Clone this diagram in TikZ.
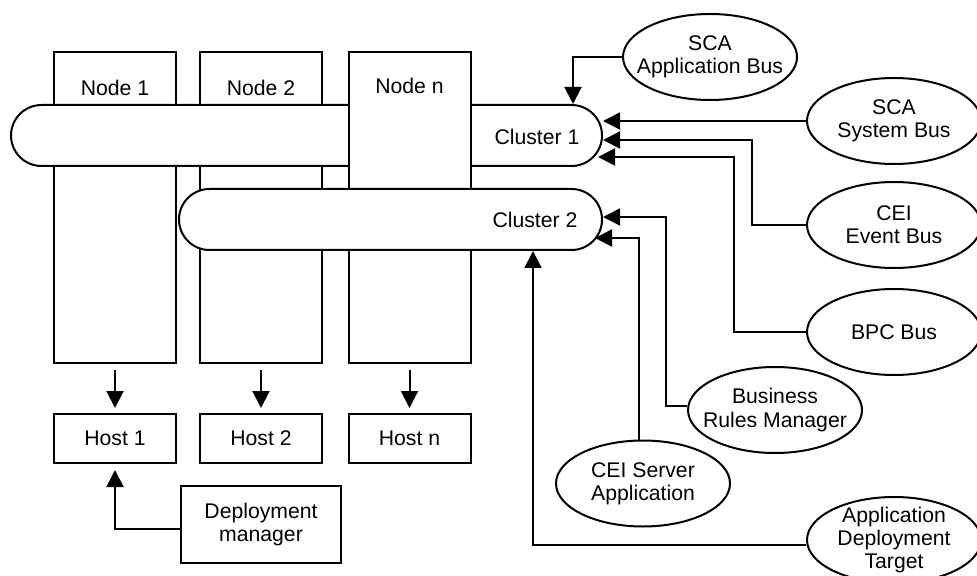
\documentclass[tikz,border=0pt]{standalone}
\usepackage{fontspec}
\setmainfont{Liberation Sans}
\usetikzlibrary{shapes.geometric,arrows.meta,calc}

\begin{document}
\begin{tikzpicture}
    % styles: boxes, clusters, buses and arrows
    [x=0.5pt,y=-0.5pt,
    every node/.style={font=\fontsize{10.6}{11.7}\selectfont},
    box/.style={rectangle,draw,fill=white,line width=1pt,minimum width=61pt},
    cluster/.style={rectangle,draw,fill=white,line width=1pt,rounded corners=15.25pt,minimum height=30.5pt,anchor=east},
    bus/.style={ellipse,draw,fill=white,line width=1pt,minimum width=87pt,minimum height=43pt,inner xsep=-30pt,inner ysep=-15pt,align=center},
    arr/.style={-{Triangle[length=8.5pt,width=8.5pt]},line width=1pt}]

    \useasboundingbox (0,0) rectangle (977,576);

    % node boxes behind cluster 1
    \foreach \x/\n in {115/1,261/2}{
        \node[box,minimum height=155.5pt] (node\n) at (\x,207.5) {};
        \node (nodelab\n) at (\x,88) {Node \n};
    }

    % cluster 1
    \node[cluster,minimum width=295.5pt] (c1) at (603,135.5) {};
    \node (c1lab) at (537,137) {Cluster 1};

    % node n, in front of cluster 1
    \node[box,minimum height=155.5pt] (noden) at (409.5,207.5) {};
    \node (nodelabn) at (409.5,86) {Node n};

    % cluster 2
    \node[cluster,minimum width=211.5pt] (c2) at (603,219.5) {};
    \node (c2lab) at (535,220) {Cluster 2};

    % hosts
    \foreach \x/\n in {115/1,261/2,409.5/n}{
        \node[box,minimum height=24.5pt] (host\n) at (\x,438.5) {Host \n};
        \draw[arr,shorten <=3pt,shorten >=2.5pt] (node\n.south) -- (host\n.north);
    }

    % deployment manager
    \node[box,minimum width=80pt,minimum height=38.5pt,align=center] (dm) at (261,524.5) {Deployment\\manager};
    \draw[arr,shorten >=3pt] ($(dm.west)+(0,4.5)$) -| (host1.south);

    % buses
    \node[bus] (appbus) at (710,57) {SCA\\Application Bus};
    \node[bus] (sysbus) at (894,121) {SCA\\System Bus};
    \node[bus] (eventbus) at (894,225) {CEI\\Event Bus};
    \node[bus] (bpcbus) at (894,332) {BPC Bus};
    \node[bus] (rules) at (775,410) {Business\\Rules Manager};
    \node[bus] (ceiserver) at (643,483.5) {CEI Server\\Application};
    \node[bus] (target) at (894,540) {Application\\Deployment\\Target};

    % buses to cluster 1
    \draw[arr] (appbus.west) -| ($(c1.north east)+(-30,0)$);
    \draw[arr] (sysbus.west) -- (sysbus.west -| c1.east);
    \draw[arr] (eventbus.west) -- ++(-54,0) |- ($(c1.east)+(0,4.5)$);
    \draw[arr] (bpcbus.west) -- ++(-72,0) |- ($(c1.east)+(-5,21.5)$);

    % buses to cluster 2
    \draw[arr] ($(rules.west)+(0,-4)$) -- ++(-21,0) |- ($(c2.east)+(0,-2.5)$);
    \draw[arr] ($(ceiserver.north)+(-4,0)$) |- ($(c2.east)+(-8,18.5)$);
    \draw[arr] ($(target.west)+(0,5)$) -| ($(c2.south east)+(-70,0)$);
\end{tikzpicture}
\end{document}
